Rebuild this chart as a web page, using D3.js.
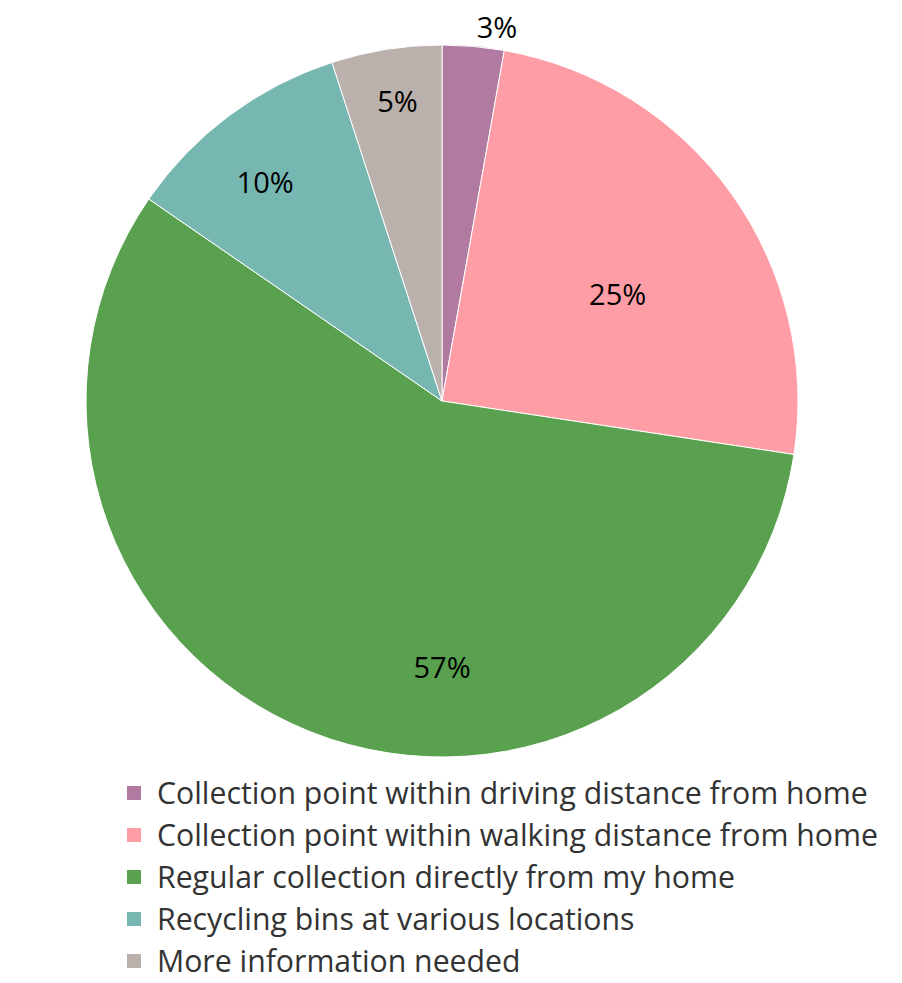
<!DOCTYPE html>
<html><head><meta charset="utf-8">
<script src="https://cdn.jsdelivr.net/npm/d3@7"></script>
<style>body{margin:0;background:#fff}svg{display:block}</style>
</head><body>
<svg id="chart" width="902" height="983"></svg>
<script>
const categories = [
  "Collection point within driving distance from home",
  "Collection point within walking distance from home",
  "Regular collection directly from my home",
  "Recycling bins at various locations",
  "More information needed"
];
const values = [2.8, 24.6, 57.2, 10.4, 5.0];
const labels = ["3%", "25%", "57%", "10%", "5%"];
const colors = ["#b07aa1", "#ff9da7", "#59a14f", "#76b7b2", "#bab0ac"];

// label placement inside each slice: t = fraction along slice angle, r = fraction of radius
const labelPlacement = [
  {t: 0.83, r: 1.06},
  {t: 0.55, r: 0.577},
  {t: 0.395, r: 0.75},
  {t: 0.44, r: 0.79},
  {t: 0.53, r: 0.85}
];

const svg = d3.select("#chart");
const cx = 442, cy = 401, R = 356;
const font = "'Open Sans', 'Noto Sans', sans-serif";

const pie = d3.pie().sort(null).value(d => d.v);
const data = categories.map((c, i) => ({c, v: values[i], i}));
const arcs = pie(data);
const arc = d3.arc().innerRadius(0).outerRadius(R);

const g = svg.append("g").attr("transform", `translate(${cx},${cy})`);
g.selectAll("path").data(arcs).join("path")
  .attr("d", arc)
  .attr("fill", d => colors[d.data.i])
  .attr("stroke", "#fff")
  .attr("stroke-width", 1);

function labelPos(d) {
  const p = labelPlacement[d.data.i];
  const a = d.startAngle + p.t * (d.endAngle - d.startAngle);
  return [Math.sin(a) * p.r * R, -Math.cos(a) * p.r * R];
}
g.selectAll("text.lbl").data(arcs).join("text")
  .attr("class", "lbl")
  .attr("x", d => labelPos(d)[0])
  .attr("y", d => labelPos(d)[1])
  .attr("text-anchor", "middle")
  .attr("dy", "0.36em")
  .style("font-family", font)
  .style("font-size", "29px")
  .attr("fill", "#000")
  .text(d => labels[d.data.i]);

const legendY = d3.scaleBand().domain(d3.range(categories.length)).range([772, 982]);
const leg = svg.append("g");
const rows = leg.selectAll("g").data(categories).join("g")
  .attr("transform", (d, i) => `translate(0,${legendY(i) + legendY.bandwidth()/2})`);
rows.append("rect").attr("x", 127).attr("y", -7).attr("width", 14).attr("height", 14)
  .attr("fill", (d, i) => colors[i]);
const texts = rows.append("text").attr("x", 157).attr("dy", "0.36em")
  .style("font-family", font).style("font-size", "27px").attr("fill", "#333")
  .text(d => d);
// fit font size so the first entry spans the same width as the reference
const w0 = texts.nodes()[0].getComputedTextLength();
const fs = 27 * 711 / w0;
texts.style("font-size", fs.toFixed(2) + "px");
</script>
</body></html>
